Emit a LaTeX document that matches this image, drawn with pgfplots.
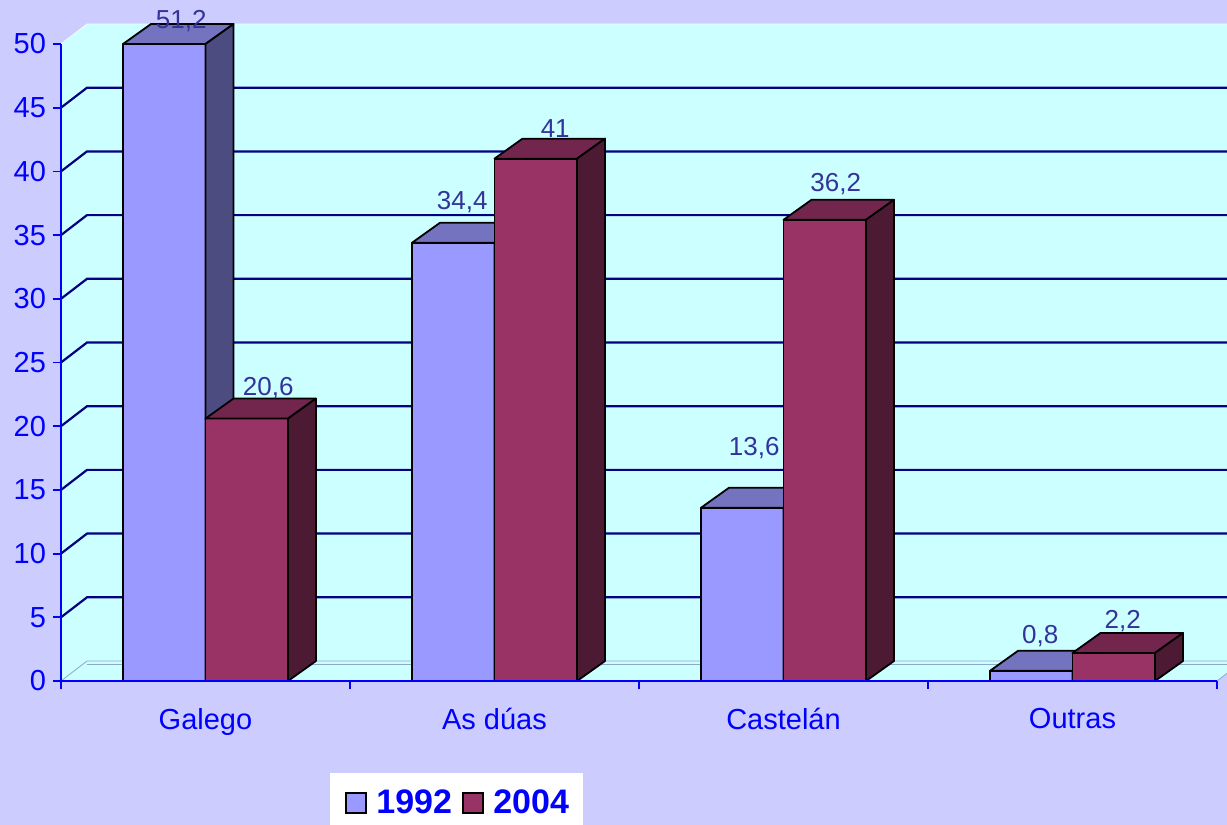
\documentclass[border=0pt]{standalone}
\usepackage{pgfplots}
\usepackage{pgfplotstable}
\pgfplotsset{compat=1.18}
\usepackage{fontspec}
\setmainfont{Liberation Sans}

\definecolor{bgcol}{HTML}{CCCCFF}
\definecolor{wallcol}{HTML}{CCFFFF}
\definecolor{gridcol}{HTML}{000080}
\definecolor{axisblue}{HTML}{0000FF}
\definecolor{lblcol}{HTML}{333399}
\definecolor{edgecol}{HTML}{8FA8C8}
\definecolor{cA}{HTML}{9999FF}
\definecolor{cAt}{HTML}{7373BF}
\definecolor{cAs}{HTML}{4C4C80}
\definecolor{cB}{HTML}{993366}
\definecolor{cBt}{HTML}{73264D}
\definecolor{cBs}{HTML}{4D1A33}

% category, value, label offsets (pt) relative to front-top centre
\pgfplotstableread{
cat v lx ly
0 51.2 8.5 11.5
1 34.4 4.5 20.4
2 13.6 6 29.9
3 0.8 4.5 17.4
}\dataA
\pgfplotstableread{
cat v lx ly
0 20.6 10.75 15
1 41 9.75 15.3
2 36.2 5.5 17.9
3 2.2 4.5 16
}\dataB

% 3D bar drawn around the data point (front-top centre)
\newcommand\barmark[4]{%
  \pgfdeclareplotmark{#1}{%
    \pgfmathsetmacro\hpt{\barh*6.37}%
    \pgfmathsetmacro\hb{10-\hpt}%
    \fill[#2,draw=black,line width=0.9pt,line join=round] (-20.625pt,-\hpt pt) rectangle (20.625pt,0pt);
    \fill[#3,draw=black,line width=0.9pt,line join=round] (-20.625pt,0pt) -- (20.625pt,0pt) -- (34.625pt,10pt) -- (-6.625pt,10pt) -- cycle;
    \fill[#4,draw=black,line width=0.9pt,line join=round] (20.625pt,0pt) -- (34.625pt,10pt) -- (34.625pt,\hb pt) -- (20.625pt,-\hpt pt) -- cycle;
  }}
\barmark{barA}{cA}{cAt}{cAs}
\barmark{barB}{cB}{cBt}{cBs}

\begin{document}
\begin{tikzpicture}
\useasboundingbox (0,0) rectangle (613.5pt,412.5pt);
\clip (0,0) rectangle (613.5pt,412.5pt);
\fill[bgcol] (0,0) rectangle (613.5pt,412.5pt);
\fill[white] (165pt,0pt) rectangle (291.5pt,26pt);
\begin{axis}[
  at={(30.5pt,72pt)}, anchor=south west,
  scale only axis, x=144.5pt, y=6.37pt,
  xmin=-0.5, xmax=3.5, ymin=0, ymax=50,
  clip=false, clip marker paths=true, axis on top,
  axis x line*=bottom, axis y line*=left,
  axis line style={draw=axisblue, line width=1.2pt},
  ytick={0,5,...,50},
  xtick={-0.5,0.5,1.5,2.5,3.5},
  x tick label as interval,
  xticklabels={Galego, As dúas, Castelán, Outras},
  tick align=outside,
  major tick length=4pt,
  tick style={draw=axisblue, line width=0.9pt},
  tick label style={font=\fontsize{14.5}{16}\selectfont, text=axisblue},
  xticklabel style={yshift=-6pt},
  /pgf/number format/assume math mode=true,
  /pgf/number format/use comma,
  /pgf/number format/fixed,
  /pgf/number format/precision=1,
  legend image code/.code={\draw[#1,draw=black,line width=0.9pt] (0pt,-5pt) rectangle (10pt,5pt); \path (13pt,0pt);},
  legend style={draw=none, fill=none, at={(axis description cs:0.3443,-0.1915)}, anchor=center,
    legend columns=2, font=\fontsize{17}{19}\bfseries\selectfont, text=axisblue,
    /tikz/every even column/.append style={column sep=3pt}},
]
% walls and floor
\fill[wallcol] ([xshift=13pt,yshift=10pt]axis cs:-0.5,0) rectangle ([xshift=13pt,yshift=10pt]axis cs:3.5,50);
\fill[wallcol] (axis cs:-0.5,0) -- (axis cs:-0.5,50) -- ([xshift=13pt,yshift=10pt]axis cs:-0.5,50) -- ([xshift=13pt,yshift=10pt]axis cs:-0.5,0) -- cycle;
\fill[wallcol] (axis cs:-0.5,0) -- (axis cs:3.5,0) -- ([xshift=13pt,yshift=10pt]axis cs:3.5,0) -- ([xshift=13pt,yshift=10pt]axis cs:-0.5,0) -- cycle;
\draw[edgecol, line width=0.4pt] (axis cs:-0.5,0) -- ([xshift=13pt,yshift=10pt]axis cs:-0.5,0) -- ([xshift=13pt,yshift=10pt]axis cs:3.5,0);
\draw[edgecol, line width=0.4pt] ([xshift=13pt,yshift=8.5pt]axis cs:-0.5,0) -- ([xshift=13pt,yshift=8.5pt]axis cs:3.5,0);
\draw[edgecol, line width=0.4pt] (axis cs:3.5,0) -- ([xshift=13pt,yshift=10pt]axis cs:3.5,0);
\draw[white!70!wallcol, line width=0.4pt] (axis cs:-0.5,50) -- ([xshift=13pt,yshift=10pt]axis cs:-0.5,50) -- ([xshift=13pt,yshift=10pt]axis cs:3.5,50);
\pgfplotsinvokeforeach{5,10,...,45}{
  \draw[gridcol, line width=1.1pt] (axis cs:-0.5,#1) -- ([xshift=13pt,yshift=10pt]axis cs:-0.5,#1) -- ([xshift=13pt,yshift=10pt]axis cs:3.5,#1);
}
% bars
\addplot[only marks, mark=barA, forget plot,
  visualization depends on={min(\thisrow{v},50) \as \barh},
  visualization depends on={\thisrow{lx} \as \lx},
  visualization depends on={\thisrow{ly} \as \ly},
  point meta=\thisrow{v},
  nodes near coords,
  every node near coord/.append style={anchor=center, xshift=\lx pt, yshift=\ly pt, text=lblcol, font=\fontsize{13}{15}\selectfont}]
  table[x expr=\thisrow{cat}-0.1427, y expr={min(\thisrow{v},50)}] {\dataA};
\addplot[only marks, mark=barB, forget plot,
  visualization depends on={min(\thisrow{v},50) \as \barh},
  visualization depends on={\thisrow{lx} \as \lx},
  visualization depends on={\thisrow{ly} \as \ly},
  point meta=\thisrow{v},
  nodes near coords,
  every node near coord/.append style={anchor=center, xshift=\lx pt, yshift=\ly pt, text=lblcol, font=\fontsize{13}{15}\selectfont}]
  table[x expr=\thisrow{cat}+0.1427, y expr={min(\thisrow{v},50)}] {\dataB};
\addlegendimage{fill=cA}
\addlegendentry{1992}
\addlegendimage{fill=cB}
\addlegendentry{2004}
\end{axis}
\end{tikzpicture}
\end{document}
